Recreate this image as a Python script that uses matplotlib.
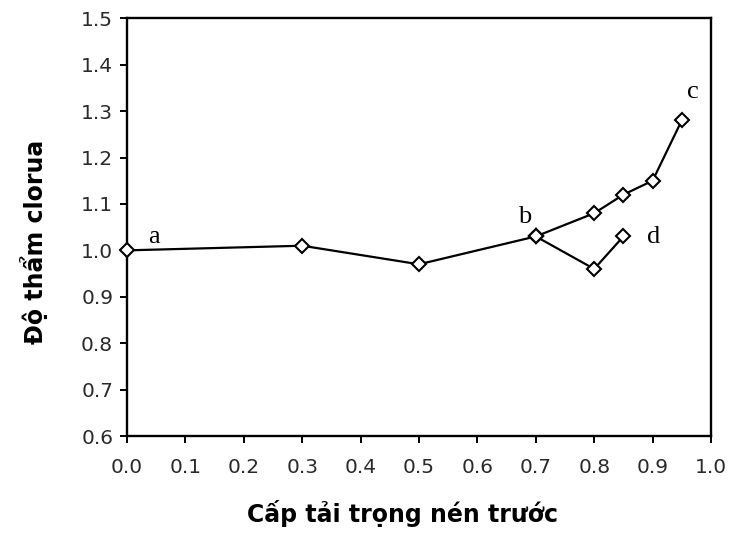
import matplotlib
matplotlib.use("Agg")
import matplotlib.pyplot as plt
from matplotlib.ticker import FormatStrFormatter

# tải trọng nén trước (tỉ lệ) và độ thấm clorua tương đối
x_main = [0.0, 0.3, 0.5, 0.7]
y_main = [1.0, 1.01, 0.97, 1.03]

x_c = [0.7, 0.8, 0.85, 0.9, 0.95]
y_c = [1.03, 1.08, 1.12, 1.15, 1.28]

x_d = [0.7, 0.8, 0.85]
y_d = [1.03, 0.96, 1.03]

point_labels = ['a', 'b', 'c', 'd']
label_xy = [(0.046, 1.016), (0.681, 1.059), (0.969, 1.328), (0.902, 1.016)]

plt.rcParams['font.family'] = ['DejaVu Sans']

fig = plt.figure(figsize=(7.36, 5.37), dpi=100)
ax = fig.add_axes([0.1726, 0.188, 0.7934, 0.778])

style = dict(color='black', lw=1.6, marker='D', ms=7.5,
             mfc='white', mec='black', mew=1.5, clip_on=False, zorder=3)
ax.plot(x_c, y_c, **style)
ax.plot(x_d, y_d, **style)
ax.plot(x_main, y_main, **style)

for lab, (lx, ly) in zip(point_labels, label_xy):
  ax.text(lx, ly, lab, fontsize=19, family='Liberation Serif',
          ha='center', va='baseline')

ax.set_xlim(0.0, 1.0)
ax.set_ylim(0.6, 1.5)
ax.set_xticks([i / 10 for i in range(11)])
ax.set_yticks([0.6 + i / 10 for i in range(10)])
ax.xaxis.set_major_formatter(FormatStrFormatter('%.1f'))
ax.yaxis.set_major_formatter(FormatStrFormatter('%.1f'))
ax.tick_params(direction='out', length=5, width=1.4, labelsize=14.5,
               colors='black', labelcolor='#2a2a2a')
ax.tick_params(axis='x', pad=11)
ax.tick_params(axis='y', pad=5)
for s in ax.spines.values():
  s.set_linewidth(1.7)

ax.set_xlabel('Cấp tải trọng nén trước', fontsize=17, fontweight='bold')
ax.xaxis.label.set_va('baseline')
ax.xaxis.set_label_coords(0.471, -0.2057)

ax.set_ylabel('Độ thẩm clorua', fontsize=17, fontweight='bold')
ax.yaxis.label.set_va('baseline')
ax.yaxis.set_label_coords(-0.144, 0.464)

fig.savefig('out.png', dpi=100)
